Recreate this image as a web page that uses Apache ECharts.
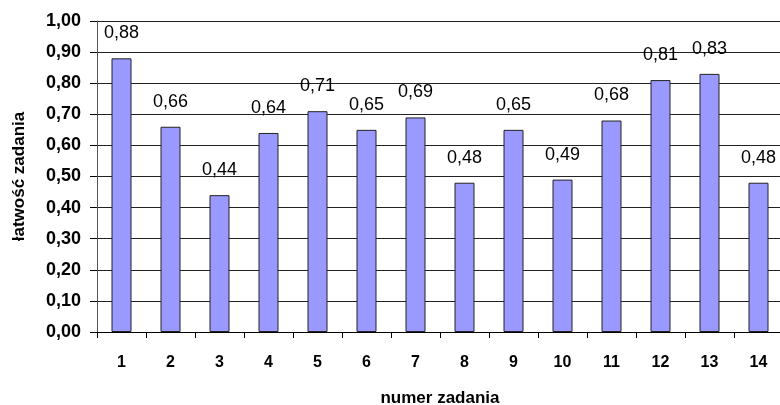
<!DOCTYPE html>
<html>
<head>
<meta charset="utf-8">
<script src="https://cdn.jsdelivr.net/npm/echarts@6/dist/echarts.min.js"></script>
<style>
html,body{margin:0;padding:0;background:#fff;}
#chart{width:780px;height:405px;}
</style>
</head>
<body>
<div id="chart"></div>
<script>
const categories = ['1','2','3','4','5','6','7','8','9','10','11','12','13','14'];
const values = [0.88,0.66,0.44,0.64,0.71,0.65,0.69,0.48,0.65,0.49,0.68,0.81,0.83,0.48];
const yAxisName = 'łatwość zadania';
const xAxisName = 'numer zadania';

const fmt = v => v.toFixed(2).replace('.', ',');
const FONT = '"Liberation Sans", Arial, sans-serif';

const chart = echarts.init(document.getElementById('chart'));
chart.setOption({
  animation: false,
  backgroundColor: '#ffffff',
  grid: { left: 97, top: 21, width: 686, height: 311, containLabel: false, outerBoundsMode: 'none' },
  xAxis: {
    type: 'category',
    data: categories,
    name: xAxisName,
    nameLocation: 'middle',
    nameGap: 58,
    nameTextStyle: { fontFamily: FONT, fontWeight: 'bold', fontSize: 17, color: '#000' },
    axisLine: { show: true, lineStyle: { color: '#000', width: 1 } },
    axisTick: { show: true, alignWithLabel: false, length: 6, inside: false, lineStyle: { color: '#000' } },
    axisLabel: { fontFamily: FONT, fontWeight: 'bold', fontSize: 16, color: '#000', margin: 23 },
    splitLine: { show: false }
  },
  yAxis: {
    type: 'value',
    min: 0, max: 1, interval: 0.1,
    name: yAxisName,
    nameLocation: 'middle',
    nameGap: 69,
    nameRotate: 90,
    nameTextStyle: { fontFamily: FONT, fontWeight: 'bold', fontSize: 17, color: '#000' },
    axisLine: { show: true, lineStyle: { color: '#555', width: 1 } },
    axisTick: { show: true, length: 7, lineStyle: { color: '#000' } },
    axisLabel: { fontFamily: FONT, fontWeight: 'bold', fontSize: 18, color: '#000', margin: 16, formatter: fmt },
    splitLine: { show: true, lineStyle: { color: '#222', width: 1 } }
  },
  series: [{
    type: 'bar',
    data: values,
    barWidth: 20,
    itemStyle: { color: '#9999FF', borderColor: '#222', borderWidth: 1 },
    label: {
      show: true,
      position: 'top',
      distance: 16,
      fontFamily: FONT,
      fontSize: 18,
      color: '#000',
      formatter: p => fmt(p.value)
    }
  }]
});
</script>
</body>
</html>
